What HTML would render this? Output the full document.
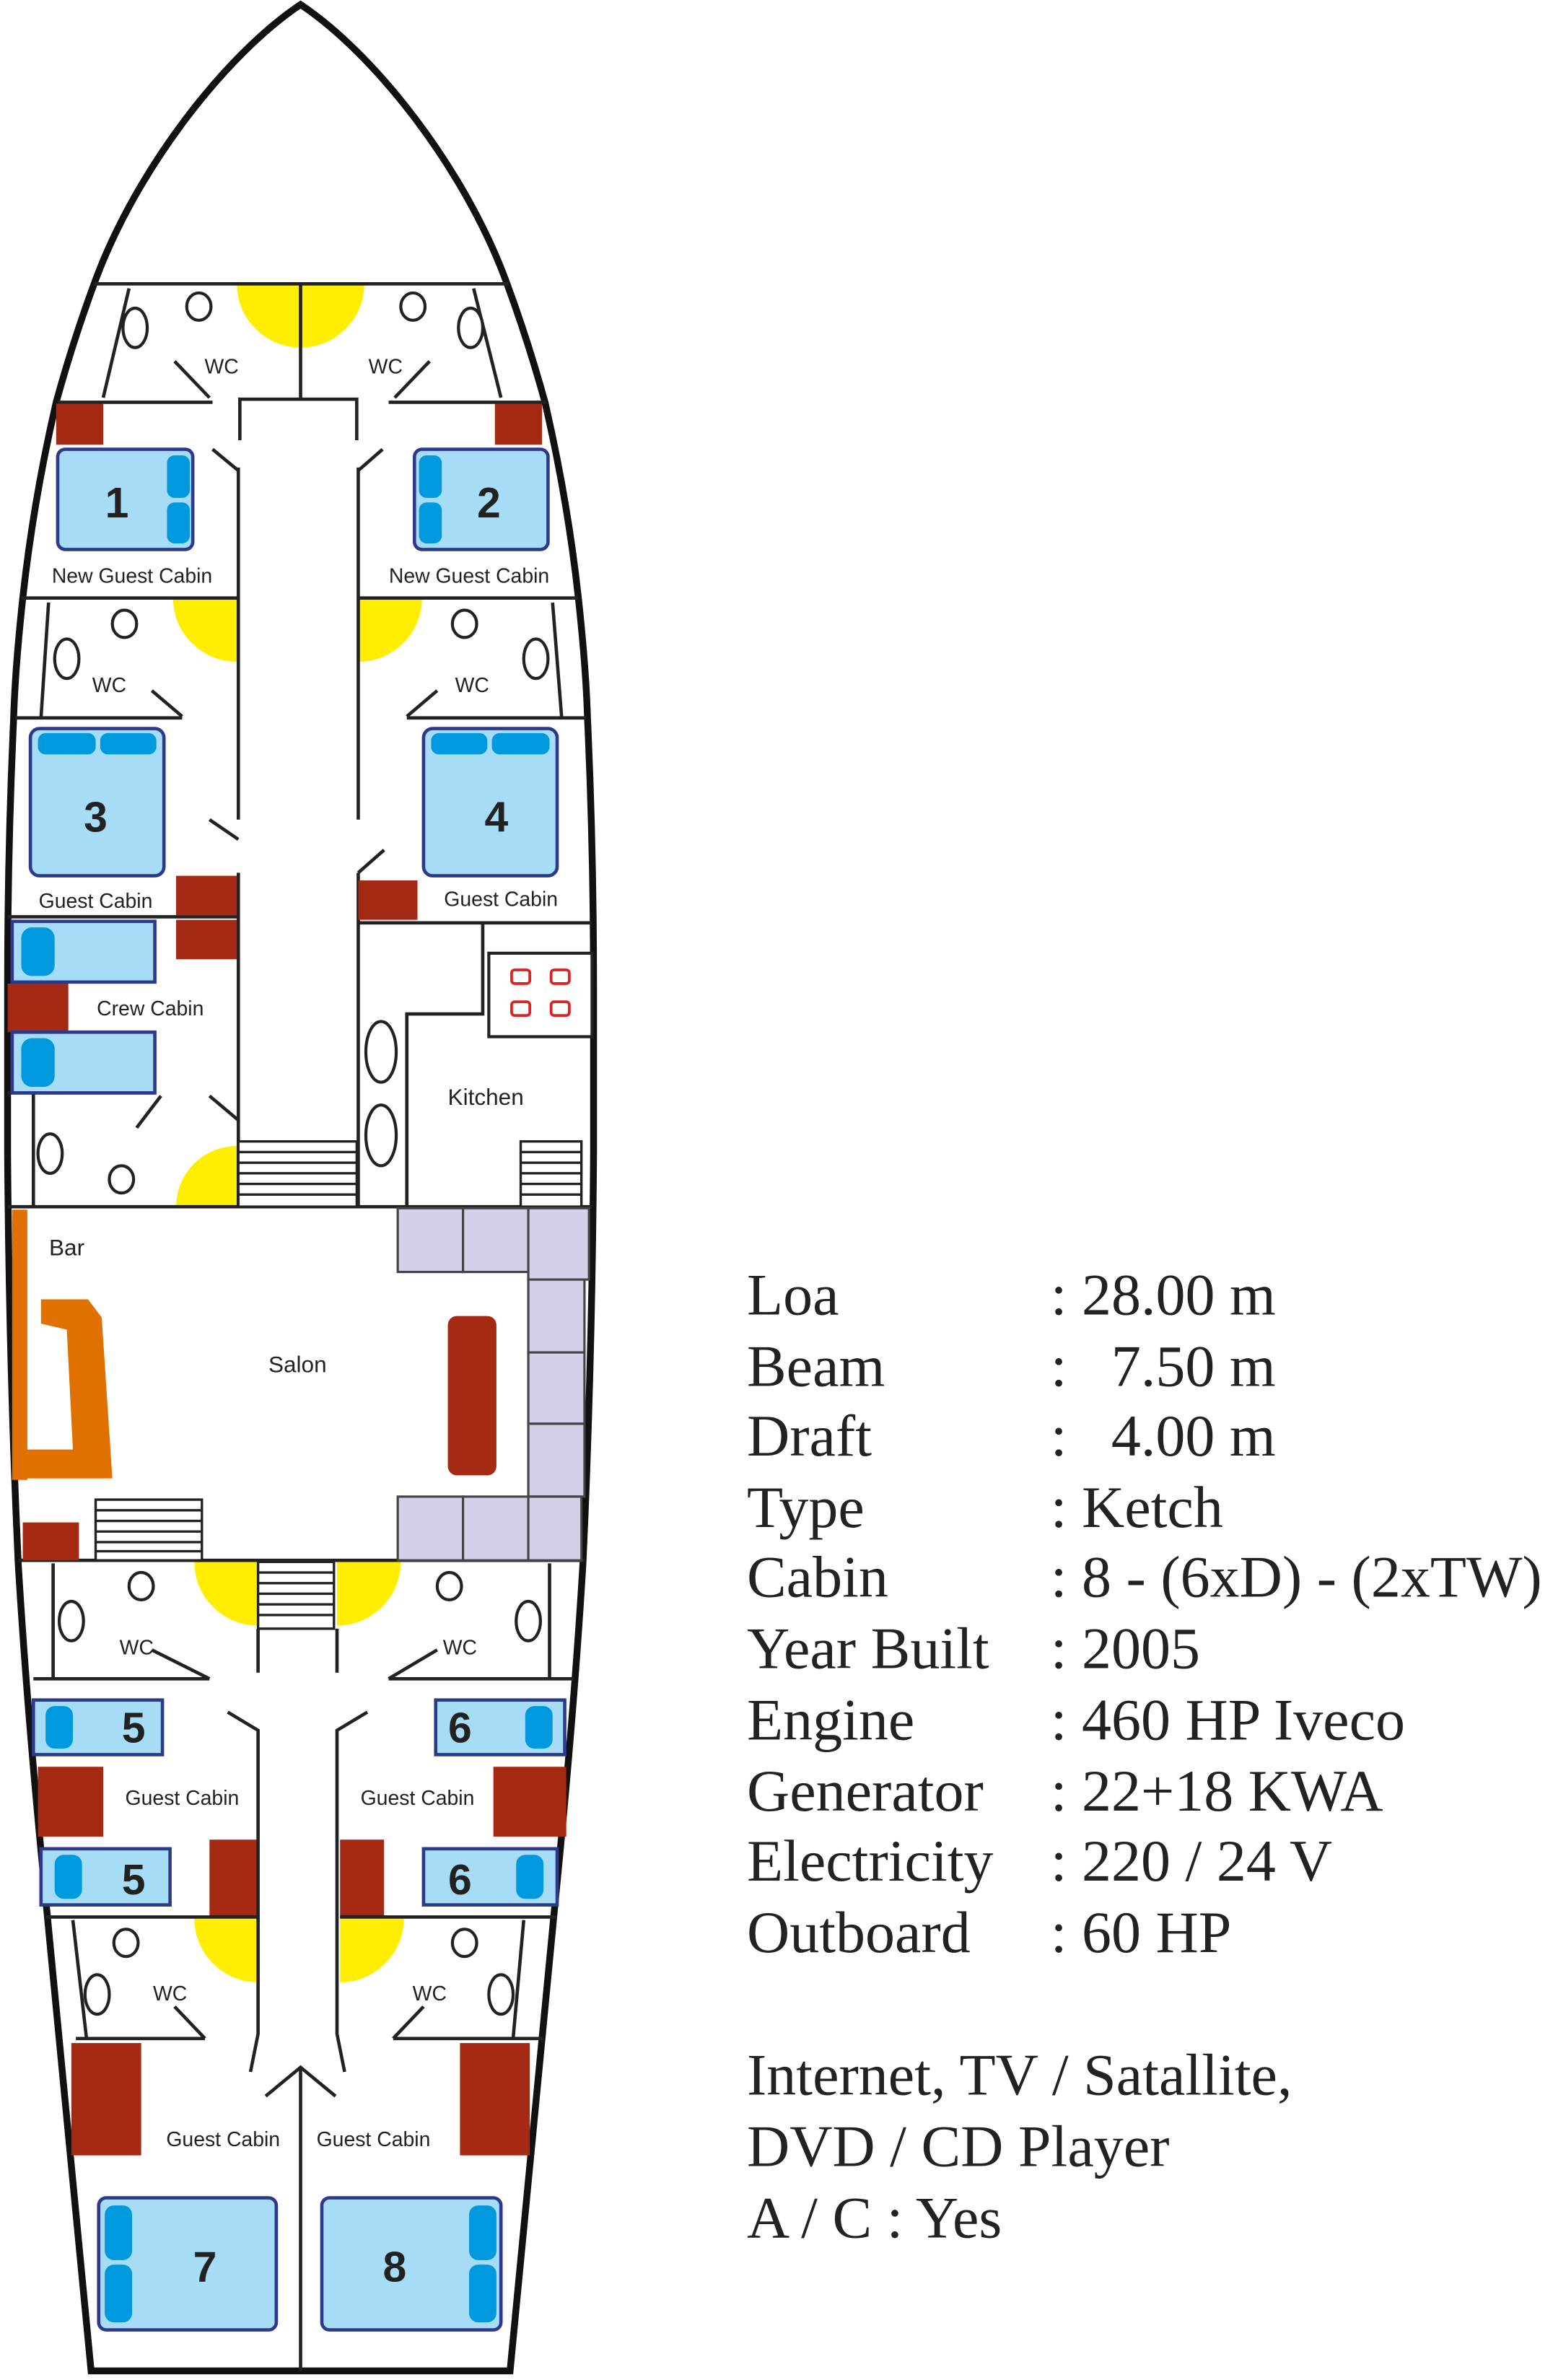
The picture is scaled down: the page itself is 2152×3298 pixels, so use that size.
<!DOCTYPE html>
<html><head><meta charset="utf-8"><style>
html,body{margin:0;padding:0;background:#fff;}
svg{display:block;}
</style></head><body>
<svg width="2152" height="3298" viewBox="0 0 1023 1568" preserveAspectRatio="none" xmlns="http://www.w3.org/2000/svg">
<defs>
<style>
.w{stroke:#222;stroke-width:2.2;fill:none;}
.bed{fill:#a6dcf5;stroke:#2d3a8c;stroke-width:2.2;}
.pl{fill:#0099dd;}
.br{fill:#a52a14;}
.ye{fill:#ffee00;}
.cu{fill:#d3d0ea;stroke:#444;stroke-width:1.5;}
.t{font-family:"Liberation Sans",sans-serif;font-size:13.5px;fill:#222;}
.n{font-family:"Liberation Sans",sans-serif;font-size:28px;font-weight:bold;fill:#222;}
.s{font-family:"Liberation Serif",serif;font-size:39px;fill:#222;}
.toi{fill:#fff;stroke:#222;stroke-width:2;}
</style>
</defs>
<!-- hull -->
<path d="M198,3 C150,35 90,110 62,187 Q48,225 37,265 Q22,330 15,394 Q10,440 9,473 Q5,560 5,650 L5,760 Q6,900 12,1030 Q18,1130 30,1250 Q45,1400 60,1562 L336,1562 Q351,1400 366,1250 Q378,1130 384,1030 Q390,900 391,760 L391,650 Q391,560 387,473 Q386,440 381,394 Q374,330 359,265 Q348,225 334,187 C306,110 246,35 198,3 Z" fill="#fff" stroke="#111" stroke-width="4.5"/>

<!-- yellow door swings -->
<path class="ye" d="M156,187 A42,42 0 0 0 240,187 Z"/>
<path class="ye" d="M156,394 L114,394 A42,42 0 0 0 156,436 Z"/>
<path class="ye" d="M236,394 L278,394 A42,42 0 0 1 236,436 Z"/>
<path class="ye" d="M156,795 L116,795 A40,40 0 0 1 156,755 Z"/>
<path class="ye" d="M170,1029 L128,1029 A42,42 0 0 0 170,1071 Z"/>
<path class="ye" d="M222,1029 L264,1029 A42,42 0 0 1 222,1071 Z"/>
<path class="ye" d="M170,1264 L128,1264 A42,42 0 0 0 170,1306 Z"/>
<path class="ye" d="M224,1264 L266,1264 A42,42 0 0 1 224,1306 Z"/>

<!-- walls top section -->
<g class="w">
<line x1="62" y1="187" x2="335" y2="187"/>
<line x1="198" y1="187" x2="198" y2="263"/>
<polyline points="158,290 158,263 235,263 235,290"/>
<line x1="85" y1="190" x2="68" y2="262"/>
<line x1="312" y1="190" x2="330" y2="262"/>
<line x1="38" y1="265" x2="140" y2="265"/>
<line x1="256" y1="265" x2="360" y2="265"/>
<line x1="115" y1="238" x2="138" y2="262"/>
<line x1="283" y1="238" x2="260" y2="262"/>
<line x1="140" y1="296" x2="157" y2="310"/>
<line x1="252" y1="296" x2="236" y2="310"/>
<line x1="157" y1="308" x2="157" y2="540"/>
<line x1="236" y1="308" x2="236" y2="540"/>
<line x1="14" y1="394" x2="157" y2="394"/>
<line x1="236" y1="394" x2="381" y2="394"/>
<line x1="32" y1="397" x2="27" y2="473"/>
<line x1="364" y1="397" x2="370" y2="473"/>
<line x1="10" y1="473" x2="120" y2="473"/>
<line x1="268" y1="473" x2="386" y2="473"/>
<line x1="100" y1="455" x2="120" y2="472"/>
<line x1="288" y1="455" x2="268" y2="472"/>
<line x1="138" y1="540" x2="157" y2="553"/>
<line x1="253" y1="560" x2="236" y2="575"/>
<line x1="157" y1="575" x2="157" y2="740"/>
<line x1="236" y1="575" x2="236" y2="795"/>
<line x1="5" y1="604" x2="157" y2="604"/>
<line x1="236" y1="608" x2="390" y2="608"/>
<line x1="5" y1="720" x2="102" y2="720"/>
<line x1="22" y1="720" x2="22" y2="795"/>
<line x1="90" y1="743" x2="106" y2="722"/>
<line x1="138" y1="722" x2="157" y2="738"/>
<line x1="157" y1="738" x2="157" y2="795"/>
<polyline points="318,608 318,668 268,668 268,795"/>
<line x1="5" y1="795" x2="390" y2="795"/>
<line x1="12" y1="1028" x2="385" y2="1028"/>
</g>

<!-- stairs -->
<g stroke="#222" stroke-width="1.6" fill="#fff">
<rect x="157" y="752" width="78" height="43"/>
<line x1="157" y1="759" x2="235" y2="759"/><line x1="157" y1="766" x2="235" y2="766"/><line x1="157" y1="773" x2="235" y2="773"/><line x1="157" y1="780" x2="235" y2="780"/><line x1="157" y1="787" x2="235" y2="787"/>
<rect x="343" y="752" width="40" height="43"/>
<line x1="343" y1="759" x2="383" y2="759"/><line x1="343" y1="766" x2="383" y2="766"/><line x1="343" y1="773" x2="383" y2="773"/><line x1="343" y1="780" x2="383" y2="780"/><line x1="343" y1="787" x2="383" y2="787"/>
<rect x="63" y="988" width="70" height="40"/>
<line x1="63" y1="995" x2="133" y2="995"/><line x1="63" y1="1002" x2="133" y2="1002"/><line x1="63" y1="1009" x2="133" y2="1009"/><line x1="63" y1="1016" x2="133" y2="1016"/><line x1="63" y1="1022" x2="133" y2="1022"/>
<rect x="170" y="1029" width="50" height="44"/>
<line x1="170" y1="1036" x2="220" y2="1036"/><line x1="170" y1="1043" x2="220" y2="1043"/><line x1="170" y1="1050" x2="220" y2="1050"/><line x1="170" y1="1057" x2="220" y2="1057"/><line x1="170" y1="1064" x2="220" y2="1064"/>
</g>

<!-- toilets / sinks -->
<g class="toi">
<ellipse cx="131" cy="202" rx="8" ry="9"/><ellipse cx="272" cy="202" rx="8" ry="9"/>
<ellipse cx="89" cy="216" rx="8" ry="13"/><ellipse cx="310" cy="216" rx="8" ry="13"/>
<ellipse cx="82" cy="411" rx="8" ry="9"/><ellipse cx="306" cy="411" rx="8" ry="9"/>
<ellipse cx="44" cy="434" rx="8" ry="13"/><ellipse cx="353" cy="434" rx="8" ry="13"/>
<ellipse cx="33" cy="760" rx="8" ry="13"/><ellipse cx="80" cy="777" rx="8" ry="9"/>
<ellipse cx="251" cy="693" rx="10" ry="20"/><ellipse cx="251" cy="748" rx="10" ry="20"/>
<ellipse cx="93" cy="1045" rx="8" ry="9"/><ellipse cx="296" cy="1045" rx="8" ry="9"/>
<ellipse cx="47" cy="1068" rx="8" ry="13"/><ellipse cx="348" cy="1068" rx="8" ry="13"/>
<ellipse cx="83" cy="1280" rx="8" ry="9"/><ellipse cx="306" cy="1280" rx="8" ry="9"/>
<ellipse cx="64" cy="1314" rx="8" ry="13"/><ellipse cx="330" cy="1314" rx="8" ry="13"/>
</g>

<!-- brown cabinets -->
<g class="br">
<rect x="37" y="266" width="31" height="27"/><rect x="326" y="266" width="31" height="27"/>
<rect x="116" y="577" width="40" height="26"/><rect x="116" y="606" width="40" height="26"/>
<rect x="236" y="580" width="39" height="26"/>
<rect x="5" y="648" width="40" height="32"/>
<rect x="15" y="1003" width="37" height="25"/>
<rect x="295" y="867" width="32" height="105" rx="6"/>
<rect x="25" y="1164" width="43" height="46"/><rect x="138" y="1212" width="32" height="51"/>
<rect x="325" y="1164" width="48" height="46"/><rect x="224" y="1212" width="29" height="51"/>
<rect x="47" y="1346" width="46" height="74"/><rect x="303" y="1346" width="46" height="74"/>
</g>

<!-- beds -->
<rect class="bed" x="38" y="296" width="89" height="66" rx="5"/>
<rect class="pl" x="110" y="300" width="15" height="28" rx="5"/><rect class="pl" x="110" y="331" width="15" height="27" rx="5"/>
<rect class="bed" x="273" y="296" width="88" height="66" rx="5"/>
<rect class="pl" x="276" y="300" width="15" height="28" rx="5"/><rect class="pl" x="276" y="331" width="15" height="27" rx="5"/>
<rect class="bed" x="20" y="480" width="88" height="97" rx="6"/>
<rect class="pl" x="25" y="483" width="38" height="14" rx="5"/><rect class="pl" x="66" y="483" width="37" height="14" rx="5"/>
<rect class="bed" x="279" y="480" width="88" height="97" rx="6"/>
<rect class="pl" x="284" y="483" width="37" height="14" rx="5"/><rect class="pl" x="324" y="483" width="38" height="14" rx="5"/>
<rect class="bed" x="8" y="607" width="94" height="40"/><rect class="pl" x="14" y="611" width="22" height="32" rx="7"/>
<rect class="bed" x="8" y="680" width="94" height="40"/><rect class="pl" x="14" y="684" width="22" height="32" rx="7"/>
<rect class="bed" x="22" y="1120" width="85" height="36"/><rect class="pl" x="30" y="1124" width="18" height="28" rx="6"/>
<rect class="bed" x="27" y="1218" width="85" height="37"/><rect class="pl" x="36" y="1222" width="18" height="29" rx="6"/>
<rect class="bed" x="287" y="1120" width="85" height="36"/><rect class="pl" x="346" y="1124" width="18" height="28" rx="6"/>
<rect class="bed" x="279" y="1218" width="88" height="37"/><rect class="pl" x="340" y="1222" width="18" height="29" rx="6"/>
<rect class="bed" x="65" y="1448" width="117" height="87" rx="5"/>
<rect class="pl" x="69" y="1453" width="18" height="36" rx="6"/><rect class="pl" x="69" y="1492" width="18" height="38" rx="6"/>
<rect class="bed" x="212" y="1448" width="118" height="87" rx="5"/>
<rect class="pl" x="309" y="1453" width="18" height="36" rx="6"/><rect class="pl" x="309" y="1492" width="18" height="38" rx="6"/>

<!-- kitchen stove -->
<rect x="322" y="628" width="68" height="55" fill="#fff" stroke="#222" stroke-width="2"/>
<g fill="none" stroke="#d22" stroke-width="1.8">
<rect x="337" y="639" width="12" height="9" rx="2"/><rect x="363" y="639" width="12" height="9" rx="2"/>
<rect x="337" y="660" width="12" height="9" rx="2"/><rect x="363" y="660" width="12" height="9" rx="2"/>
</g>

<!-- salon cushions -->
<rect class="cu" x="262" y="796" width="43" height="42"/><rect class="cu" x="305" y="796" width="43" height="42"/>
<rect class="cu" x="348" y="796" width="40" height="47"/><rect class="cu" x="348" y="843" width="37" height="48"/>
<rect class="cu" x="348" y="891" width="37" height="47"/><rect class="cu" x="348" y="938" width="37" height="48"/>
<rect class="cu" x="262" y="986" width="43" height="42"/><rect class="cu" x="305" y="986" width="43" height="42"/><rect class="cu" x="348" y="986" width="35" height="42"/>

<!-- bar -->
<path d="M8,797 L17,797 L17,955 L48,955 L44,876 L27,872 L27,856 L58,856 L67,868 L74,974 L10,974 Z" fill="#e07000"/>
<rect x="8" y="797" width="10" height="178" fill="#e07000"/>

<!-- lower walls -->
<g class="w">
<line x1="35" y1="1030" x2="35" y2="1106"/>
<line x1="362" y1="1030" x2="362" y2="1106"/>
<line x1="22" y1="1106" x2="138" y2="1106"/>
<line x1="256" y1="1106" x2="378" y2="1106"/>
<line x1="100" y1="1087" x2="138" y2="1106"/>
<line x1="288" y1="1087" x2="256" y2="1106"/>
<line x1="170" y1="1073" x2="170" y2="1102"/>
<line x1="222" y1="1073" x2="222" y2="1102"/>
<polyline points="150,1128 170,1140 170,1340 165,1365"/>
<polyline points="242,1128 222,1140 222,1340 227,1365"/>
<line x1="30" y1="1263" x2="170" y2="1263"/>
<line x1="224" y1="1263" x2="367" y2="1263"/>
<line x1="48" y1="1265" x2="57" y2="1343"/>
<line x1="345" y1="1265" x2="338" y2="1343"/>
<line x1="50" y1="1343" x2="135" y2="1343"/>
<line x1="259" y1="1343" x2="358" y2="1343"/>
<line x1="115" y1="1322" x2="135" y2="1343"/>
<line x1="279" y1="1322" x2="259" y2="1343"/>
<line x1="198" y1="1362" x2="198" y2="1562"/>
<polyline points="175,1381 198,1362 221,1381"/>
</g>

<!-- labels -->
<g class="t" text-anchor="middle">
<text x="146" y="246">WC</text><text x="254" y="246">WC</text>
<text x="87" y="384">New Guest Cabin</text><text x="309" y="384">New Guest Cabin</text>
<text x="72" y="456">WC</text><text x="311" y="456">WC</text>
<text x="63" y="598">Guest Cabin</text><text x="330" y="597">Guest Cabin</text>
<text x="99" y="669">Crew Cabin</text>
<text x="320" y="728" font-size="15">Kitchen</text>
<text x="44" y="827" font-size="15">Bar</text>
<text x="196" y="904" font-size="15">Salon</text>
<text x="90" y="1090">WC</text><text x="303" y="1090">WC</text>
<text x="120" y="1189">Guest Cabin</text><text x="275" y="1189">Guest Cabin</text>
<text x="112" y="1318">WC</text><text x="283" y="1318">WC</text>
<text x="147" y="1414">Guest Cabin</text><text x="246" y="1414">Guest Cabin</text>
</g>
<g class="n" text-anchor="middle">
<text x="77" y="341">1</text><text x="322" y="341">2</text>
<text x="63" y="548">3</text><text x="327" y="548">4</text>
<text x="88" y="1148">5</text><text x="88" y="1248">5</text>
<text x="303" y="1148">6</text><text x="303" y="1248">6</text>
<text x="135" y="1503">7</text><text x="260" y="1503">8</text>
</g>

<!-- specs -->
<g class="s">
<text x="492" y="866">Loa</text><text x="692" y="866">: 28.00 m</text>
<text x="492" y="913">Beam</text><text x="692" y="913">:</text><text x="732" y="913">7.50 m</text>
<text x="492" y="959">Draft</text><text x="692" y="959">:</text><text x="732" y="959">4.00 m</text>
<text x="492" y="1006">Type</text><text x="692" y="1006">: Ketch</text>
<text x="492" y="1052">Cabin</text><text x="692" y="1052">: 8 - (6xD) - (2xTW)</text>
<text x="492" y="1099">Year Built</text><text x="692" y="1099">: 2005</text>
<text x="492" y="1146">Engine</text><text x="692" y="1146">: 460 HP Iveco</text>
<text x="492" y="1193">Generator</text><text x="692" y="1193">: 22+18 KWA</text>
<text x="492" y="1239">Electricity</text><text x="692" y="1239">: 220 / 24 V</text>
<text x="492" y="1286">Outboard</text><text x="692" y="1286">: 60 HP</text>
<text x="492" y="1380">Internet, TV / Satallite,</text>
<text x="492" y="1427">DVD / CD Player</text>
<text x="492" y="1474">A / C : Yes</text>
</g>
</svg>
</body></html>
